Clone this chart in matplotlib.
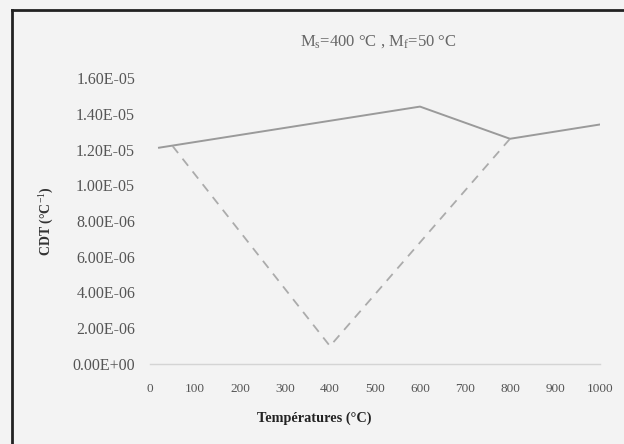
import matplotlib
matplotlib.use("Agg")
import matplotlib.pyplot as plt
from matplotlib.lines import Line2D

# Data
solid_x = [20, 600, 800, 1000]
solid_y = [1.21e-5, 1.44e-5, 1.26e-5, 1.34e-5]
dash_x = [50, 400, 800]
dash_y = [1.22e-5, 1.0e-6, 1.26e-5]
x_ticks = [0, 100, 200, 300, 400, 500, 600, 700, 800, 900, 1000]
y_ticks = [0, 2e-6, 4e-6, 6e-6, 8e-6, 1e-5, 1.2e-5, 1.4e-5, 1.6e-5]
y_tick_labels = ["0.00E+00", "2.00E-06", "4.00E-06", "6.00E-06", "8.00E-06",
                 "1.00E-05", "1.20E-05", "1.40E-05", "1.60E-05"]
title = "M$_s$=400 °C , M$_f$=50 °C"
xlabel = "Températures (°C)"
ylabel = "CDT (°C$^{-1}$)"

plt.rcParams['font.family'] = ['Liberation Serif', 'DejaVu Serif']
plt.rcParams['mathtext.fontset'] = 'custom'
plt.rcParams['mathtext.rm'] = 'Liberation Serif'
plt.rcParams['mathtext.it'] = 'Liberation Serif'

bg = '#f3f3f3'
fig = plt.figure(figsize=(6.24, 4.44), dpi=100, facecolor=bg)
ax = fig.add_axes([150/624, 1-364/444, 450/624, 286/444])
ax.set_facecolor(bg)

ax.plot(solid_x, solid_y, color='#9a9a9a', lw=1.4)
ax.plot(dash_x, dash_y, color='#ababab', lw=1.3, linestyle=(0, (5, 4)))

ax.set_xlim(0, 1000)
ax.set_ylim(0, 1.6e-5)
ax.set_xticks(x_ticks)
ax.set_xticklabels([str(v) for v in x_ticks])
ax.set_yticks(y_ticks)
ax.set_yticklabels(y_tick_labels)
ax.tick_params(axis='x', length=0, pad=14, labelsize=9.5, labelcolor='#555555')
ax.tick_params(axis='y', length=0, pad=10.7, labelsize=11.5, labelcolor='#555555')

for s in ['top', 'right', 'left']:
    ax.spines[s].set_visible(False)
ax.spines['bottom'].set_color('#d4d4d4')
ax.spines['bottom'].set_linewidth(1.0)

fig.text(378/624, 1-42/444, title, ha='center', va='center', fontsize=12, color='#666666')
fig.text(314/624, 1-418/444, xlabel, ha='center', va='center', fontsize=10.3, fontweight='bold', color='#222222')
fig.text(47/624, 1-221/444, ylabel, ha='center', va='center', rotation=90, fontsize=10, fontweight='bold', color='#333333')

# outer frame (left and top edges visible)
fig.add_artist(Line2D([12/624, 12/624], [0, 1-10/444], transform=fig.transFigure, color='#222222', lw=2))
fig.add_artist(Line2D([12/624, 1], [1-10/444, 1-10/444], transform=fig.transFigure, color='#222222', lw=2))

fig.savefig('out.png', dpi=100, facecolor=bg)
